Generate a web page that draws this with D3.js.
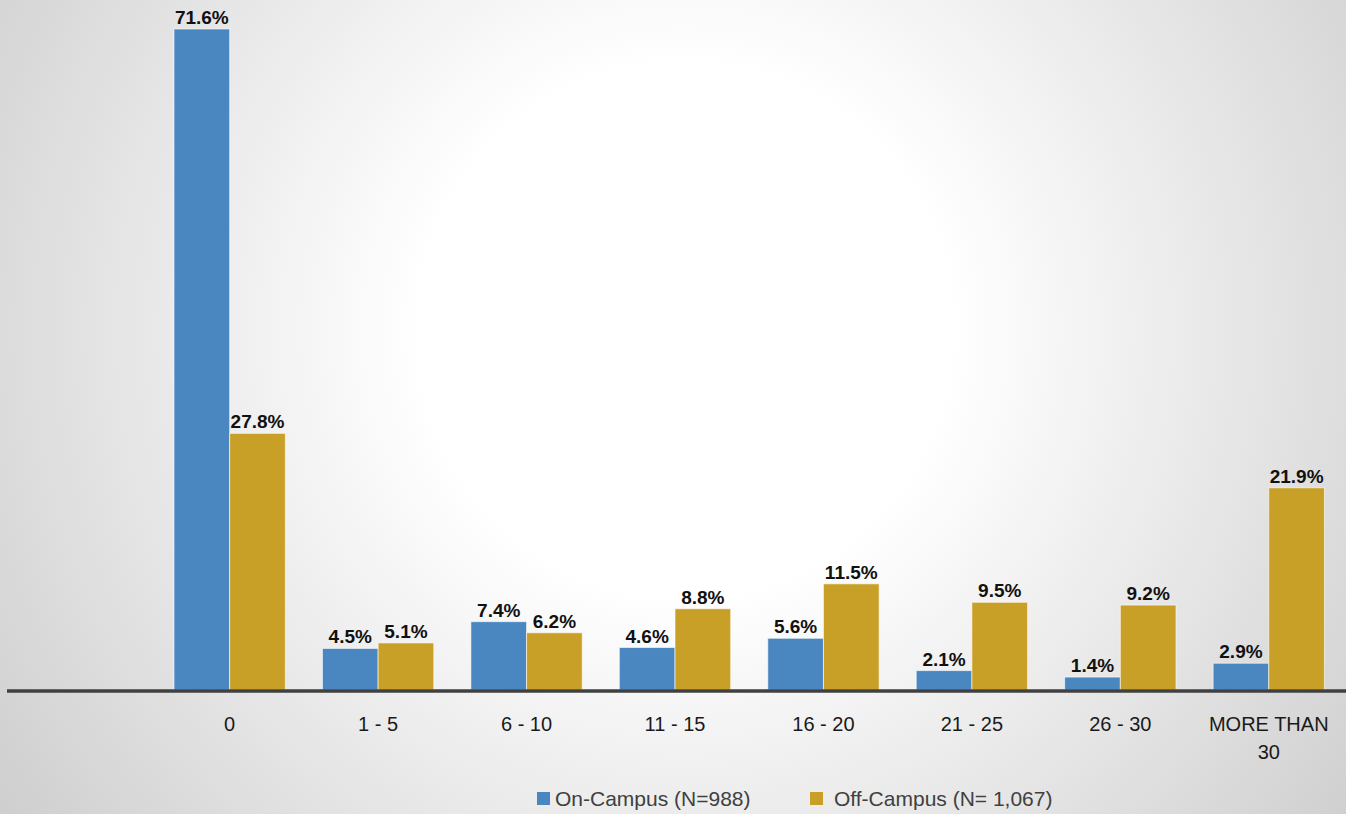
<!DOCTYPE html>
<html>
<head>
<meta charset="utf-8">
<script src="https://cdn.jsdelivr.net/npm/d3@7"></script>
<style>
html,body{margin:0;padding:0;background:#fff;}
svg{display:block;}
</style>
</head>
<body>
<svg id="chart" width="1346" height="814"></svg>
<script>
const categories = ["", "0", "1 - 5", "6 - 10", "11 - 15", "16 - 20", "21 - 25", "26 - 30", "MORE THAN 30"];
const categoryLines = [[""], ["0"], ["1 - 5"], ["6 - 10"], ["11 - 15"], ["16 - 20"], ["21 - 25"], ["26 - 30"], ["MORE THAN", "30"]];
const onCampus = [null, 71.6, 4.5, 7.4, 4.6, 5.6, 2.1, 1.4, 2.9];
const offCampus = [null, 27.8, 5.1, 6.2, 8.8, 11.5, 9.5, 9.2, 21.9];
const seriesNames = ["On-Campus (N=988)", "Off-Campus (N= 1,067)"];
const seriesColors = ["#4A86C0", "#C8A027"];

const W = 1346, H = 814;
const svg = d3.select("#chart");
const defs = svg.append("defs");
const grad = defs.append("radialGradient").attr("id", "bg")
  .attr("gradientUnits", "userSpaceOnUse")
  .attr("cx", 685).attr("cy", 330).attr("r", 830);
grad.append("stop").attr("offset", "0").attr("stop-color", "#ffffff");
grad.append("stop").attr("offset", "0.32").attr("stop-color", "#ffffff");
grad.append("stop").attr("offset", "1").attr("stop-color", "#cfcfcf");
svg.append("rect").attr("width", W).attr("height", H).attr("fill", "url(#bg)");

const baseY = 690;
const x = d3.scaleBand().domain(categories.map((c, i) => i)).range([7, 1343]).paddingInner(0).paddingOuter(0);
const inner = d3.scaleBand().domain([0, 1]).range([x.bandwidth() * 0.125, x.bandwidth() * 0.875]).padding(0);
const y = d3.scaleLinear().domain([0, 71.6]).range([baseY, 29]);

const series = [onCampus, offCampus];
const font = "'Liberation Sans', Arial, sans-serif";

series.forEach((vals, s) => {
  const data = vals.map((v, i) => ({v, i})).filter(d => d.v !== null);
  const g = svg.append("g");
  g.selectAll("rect").data(data).enter().append("rect")
    .attr("x", d => x(d.i) + inner(s))
    .attr("y", d => y(d.v))
    .attr("width", inner.bandwidth())
    .attr("height", d => baseY - y(d.v))
    .attr("fill", seriesColors[s])
    .attr("stroke", "rgba(255,255,255,0.6)")
    .attr("stroke-width", 1);
  g.selectAll("text").data(data).enter().append("text")
    .attr("x", d => x(d.i) + inner(s) + inner.bandwidth() / 2)
    .attr("y", d => y(d.v) - 5)
    .attr("text-anchor", "middle")
    .attr("font-family", font)
    .attr("font-weight", "bold")
    .attr("font-size", 19)
    .attr("fill", "#111")
    .text(d => d.v.toFixed(1) + "%");
});

// baseline
svg.append("line").attr("x1", 7).attr("x2", 1346).attr("y1", baseY + 1).attr("y2", baseY + 1)
  .attr("stroke", "#404040").attr("stroke-width", 3.5);

// category labels
const xl = svg.append("g");
categoryLines.forEach((lines, i) => {
  const t = xl.append("text")
    .attr("x", x(i) + x.bandwidth() / 2)
    .attr("y", 731)
    .attr("text-anchor", "middle")
    .attr("font-family", font)
    .attr("font-size", 20)
    .attr("fill", "#1a1a1a");
  lines.forEach((ln, k) => {
    t.append("tspan").attr("x", x(i) + x.bandwidth() / 2).attr("dy", k === 0 ? 0 : 28).text(ln);
  });
});

// legend
const legendItems = [{x: 537, tx: 555}, {x: 810, tx: 834}];
legendItems.forEach((p, s) => {
  svg.append("rect").attr("x", p.x).attr("y", 792).attr("width", 13).attr("height", 13).attr("fill", seriesColors[s]);
  svg.append("text").attr("x", p.tx).attr("y", 806)
    .attr("font-family", font).attr("font-size", 21).attr("fill", "#404040")
    .text(seriesNames[s]);
});
</script>
</body>
</html>
